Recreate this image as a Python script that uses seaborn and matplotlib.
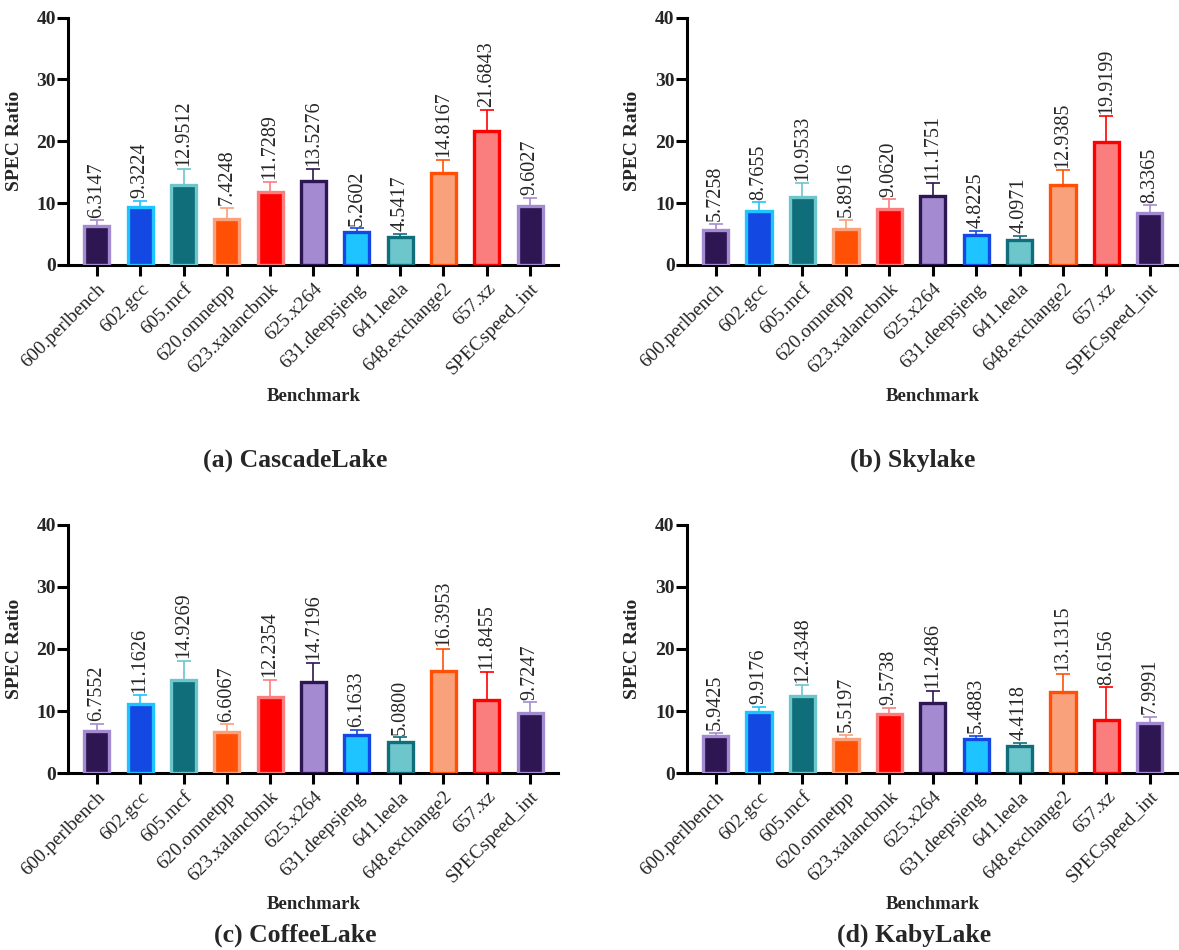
import numpy as np
import pandas as pd
import matplotlib
matplotlib.use("Agg")
import matplotlib.pyplot as plt
import seaborn as sns

# --- data ---
benchmarks = ["600.perlbench", "602.gcc", "605.mcf", "620.omnetpp", "623.xalancbmk",
              "625.x264", "631.deepsjeng", "641.leela", "648.exchange2", "657.xz",
              "SPECspeed_int"]

cascade_vals = [6.3147, 9.3224, 12.9512, 7.4248, 11.7289, 13.5276, 5.2602, 4.5417, 14.8167, 21.6843, 9.6027]
cascade_err = [0.9, 1.1, 2.55, 1.8, 1.65, 1.95, 0.65, 0.5, 2.2, 3.4, 1.3]

skylake_vals = [5.7258, 8.7655, 10.9533, 5.8916, 9.0620, 11.1751, 4.8225, 4.0971, 12.9385, 19.9199, 8.3365]
skylake_err = [0.95, 1.35, 2.25, 1.4, 1.55, 2.05, 0.75, 0.65, 2.35, 4.1, 1.3]

coffee_vals = [6.7552, 11.1626, 14.9269, 6.6067, 12.2354, 14.7196, 6.1633, 5.0800, 16.3953, 11.8455, 9.7247]
coffee_err = [1.15, 1.35, 3.15, 1.25, 2.8, 3.1, 0.85, 0.65, 3.6, 4.4, 1.65]

kaby_vals = [5.9425, 9.9176, 12.4348, 5.5197, 9.5738, 11.2486, 5.4883, 4.4118, 13.1315, 8.6156, 7.9991]
kaby_err = [0.5, 0.7, 1.7, 0.6, 0.9, 1.95, 0.5, 0.4, 2.8, 5.2, 1.0]

panels = [("(a) CascadeLake", cascade_vals, cascade_err),
          ("(b) Skylake", skylake_vals, skylake_err),
          ("(c) CoffeeLake", coffee_vals, coffee_err),
          ("(d) KabyLake", kaby_vals, kaby_err)]

dpurple = "#2E1652"
lav = "#A48BD1"
blue = "#1349E2"
cyan = "#1EC4FF"
teal = "#0F6E79"
lteal = "#6DC6CC"
orange = "#FF5006"
salmon = "#F9A17A"
red = "#FF0000"
pink = "#FA7E7E"

fills = [dpurple, blue, teal, orange, red, lav, cyan, lteal, salmon, pink, dpurple]
edges = [lav, cyan, lteal, salmon, pink, dpurple, blue, teal, orange, red, lav]

# --- style ---
sns.set_style("ticks")
plt.rcParams["font.family"] = ["Liberation Serif", "DejaVu Serif"]

fig = plt.figure(figsize=(11.79, 9.5), dpi=100)

ax_pos = [[0.0579, 0.7211, 0.4156, 0.2603],
          [0.5827, 0.7211, 0.4165, 0.2603],
          [0.0579, 0.1863, 0.4156, 0.2611],
          [0.5827, 0.1863, 0.4165, 0.2611]]
cap_pos = [(0.250, 0.516), (0.774, 0.516), (0.250, 0.016), (0.775, 0.016)]

for k, (title, vals, err) in enumerate(panels):
    ax = fig.add_axes(ax_pos[k])
    df = pd.DataFrame({"Benchmark": benchmarks, "Ratio": vals})
    sns.barplot(data=df, x="Benchmark", y="Ratio", hue="Benchmark",
                palette=fills, saturation=1, width=0.58, errorbar=None,
                legend=False, dodge=False, ax=ax, zorder=3)
    for p, ec in zip(ax.patches, edges):
        p.set_edgecolor(ec)
        p.set_linewidth(2.4)

    # upper-only error bars, coloured like the bar edge
    for i in range(len(benchmarks)):
        ax.errorbar(i, vals[i], yerr=[[0], [err[i]]], fmt="none",
                    ecolor=edges[i], elinewidth=1.2, capsize=5, capthick=1.2, zorder=2)
        ax.text(i, vals[i] + err[i] + 0.45, "%.4f" % vals[i], rotation=90,
                ha="center", va="bottom", fontsize=14.5)

    ax.set_ylim(0, 40)
    ax.set_xlim(-0.66, 10.65)
    ax.set_yticks([0, 10, 20, 30, 40])
    ax.set_xticks(range(len(benchmarks)))
    ax.set_xticklabels(benchmarks, rotation=45, ha="right", va="top",
                       rotation_mode="anchor", fontsize=14)
    for lab in ax.get_yticklabels():
        lab.set_fontweight("bold")
        lab.set_fontsize(14)
    ax.tick_params(axis="both", width=2.2, length=8, direction="out", color="black")
    ax.tick_params(axis="y", pad=1)
    ax.tick_params(axis="x", pad=3)
    for s in ["left", "bottom"]:
        ax.spines[s].set_linewidth(2.2)
        ax.spines[s].set_color("black")
    sns.despine(ax=ax)

    ax.set_ylabel("SPEC Ratio", fontsize=14, fontweight="bold")
    ax.yaxis.set_label_coords(-0.11, 0.5)
    ax.yaxis.label.set_verticalalignment("center")
    ax.set_xlabel("Benchmark", fontsize=13.5, fontweight="bold")
    ax.xaxis.set_label_coords(0.5, -0.53)
    ax.xaxis.label.set_verticalalignment("center")

    fig.text(cap_pos[k][0], cap_pos[k][1], title, ha="center", va="center",
             fontsize=18.5, fontweight="bold")

fig.savefig("out.png", dpi=100)
